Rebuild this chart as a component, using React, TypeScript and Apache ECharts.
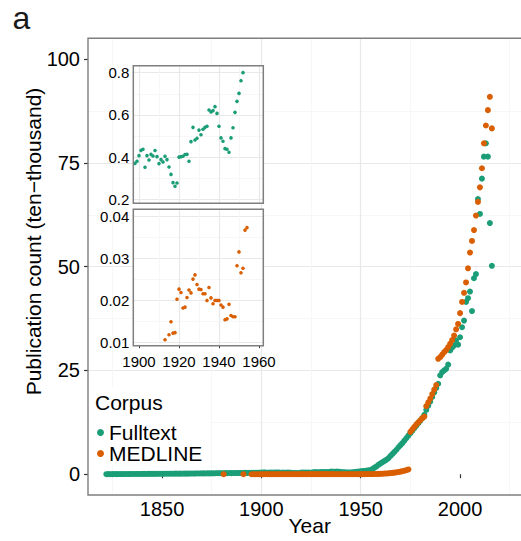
import React, { useEffect, useRef } from "react";
import * as echarts from "echarts";

// ---------- data ----------
const corpusNames = ["Fulltext", "MEDLINE"];
const corpusColors = ["#1b9e77", "#d95f02"];

const FULLTEXT_START = 1822;
// publication count (ten-thousand), one value per year 1822..2016
const fulltextValues = [
  // 1822-1829
  0.02, 0.03, 0.02, 0.03, 0.04, 0.03, 0.04, 0.05,
  // 1830-1839
  0.04, 0.05, 0.06, 0.05, 0.06, 0.07, 0.06, 0.07, 0.08, 0.07,
  // 1840-1849
  0.08, 0.09, 0.08, 0.09, 0.1, 0.09, 0.11, 0.1, 0.11, 0.12,
  // 1850-1859
  0.11, 0.12, 0.13, 0.12, 0.13, 0.14, 0.13, 0.15, 0.14, 0.15,
  // 1860-1869
  0.14, 0.16, 0.15, 0.17, 0.16, 0.18, 0.17, 0.19, 0.18, 0.2,
  // 1870-1879
  0.19, 0.21, 0.2, 0.22, 0.21, 0.23, 0.22, 0.24, 0.25, 0.24,
  // 1880-1889
  0.26, 0.25, 0.27, 0.26, 0.28, 0.27, 0.29, 0.3, 0.29, 0.31,
  // 1890-1899
  0.3, 0.32, 0.33, 0.32, 0.34, 0.35, 0.34, 0.36, 0.37, 0.38,
  // 1900-1909
  0.407, 0.432, 0.437, 0.352, 0.407, 0.386, 0.413, 0.405, 0.431, 0.402,
  // 1910-1919
  0.369, 0.388, 0.377, 0.404, 0.388, 0.353, 0.318, 0.279, 0.262, 0.277,
  // 1920-1929
  0.4, 0.402, 0.404, 0.412, 0.413, 0.38, 0.473, 0.541, 0.481, 0.489,
  // 1930-1939
  0.528, 0.506, 0.532, 0.541, 0.546, 0.623, 0.614, 0.62, 0.639, 0.607,
  // 1940-1949
  0.546, 0.491, 0.475, 0.44, 0.437, 0.423, 0.491, 0.539, 0.612, 0.664,
  // 1950-1959
  0.702, 0.762, 0.8, 0.87, 0.95, 1.0, 1.3, 1.6, 1.9, 2.3,
  // 1960-1969
  2.6, 2.9, 3.2, 3.5, 3.9, 4.4, 4.9, 5.4, 5.9, 6.5,
  // 1970-1979
  7.0, 7.5, 8.1, 8.7, 9.3, 9.9, 10.5, 11.1, 11.7, 12.3,
  // 1980-1989
  12.9, 13.5, 14.3, 15.5, 16.5, 17.5, 18.6, 19.7, 20.8, 21.8,
  // 1990-1999
  23.8, 24.6, 25.0, 25.4, 26.4, 29.8, 30.5, 31.0, 32.2, 31.2,
  // 2000-2009
  33.0, 35.4, 37.0, 41.5, 42.4, 44.0, 39.3, 47.2, 48.2, 66.3,
  // 2010-2016
  62.7, 71.2, 76.5, 79.7, 76.5, 60.5, 50.2,
];

const medlineEarlyYears = [1881, 1891];
const medlineEarlyValues = [0.006, 0.007];
const MEDLINE_START = 1895;
// one value per year 1895..2016
const medlineValues = [
  // 1895-1899
  0.003, 0.004, 0.003, 0.004, 0.005,
  // 1900-1909
  0.004, 0.005, 0.006, 0.005, 0.006, 0.006, 0.007, 0.006, 0.007, 0.008,
  // 1910-1919
  0.007, 0.008, 0.009, 0.0106, 0.0085, 0.0118, 0.0149, 0.0122, 0.0123, 0.0203,
  // 1920-1929
  0.0227, 0.0219, 0.0182, 0.0184, 0.0207, 0.0225, 0.0218, 0.0251, 0.0261, 0.0238,
  // 1930-1939
  0.0227, 0.0226, 0.0216, 0.0216, 0.02, 0.0231, 0.0206, 0.0192, 0.02, 0.02,
  // 1940-1949
  0.02, 0.0189, 0.0184, 0.0154, 0.0156, 0.0191, 0.0164, 0.0161, 0.0161, 0.0283,
  // 1950-1959
  0.0316, 0.0266, 0.0277, 0.0368, 0.0374, 0.045, 0.05, 0.06, 0.07, 0.09,
  // 1960-1969
  0.11, 0.13, 0.16, 0.19, 0.23, 0.28, 0.33, 0.39, 0.46, 0.54,
  // 1970-1979
  0.63, 0.73, 0.85, 0.98, 1.15, 10.2, 10.8, 11.4, 12.0, 12.5,
  // 1980-1989
  13.0, 13.5, 13.9, 16.4, 17.3, 18.2, 19.3, 20.4, 21.5, 27.8,
  // 1990-1999
  28.2, 28.8, 29.4, 29.9, 30.6, 31.4, 32.3, 33.4, 34.9, 36.2,
  // 2000-2009
  38.8, 41.5, 43.7, 46.2, 49.6, 53.4, 56.2, 58.8, 62.3, 65.6,
  // 2010-2016
  69.1, 73.7, 79.7, 84.0, 87.7, 90.9, 83.3,
];

const mainXTicks = [1850, 1900, 1950, 2000];
const mainYTicks = [0, 25, 50, 75, 100];
const insetXTicks = [1900, 1920, 1940, 1960];
const inset1YTicks = [0.2, 0.4, 0.6, 0.8];
const inset2YTicks = [0.01, 0.02, 0.03, 0.04];

// ---------- layout ----------
const FONT = "'Liberation Sans', Arial, Helvetica, sans-serif";
const MAIN = { left: 88, top: 38.3, right: 531.4, bottom: 495 };
const MAIN_X = [1812.75, 2035.9];
const MAIN_Y = [-5, 105];
const IN1 = { left: 133.3, top: 65.7, right: 263.3, bottom: 203.3 };
const IN2 = { left: 133.3, top: 209.3, right: 263.3, bottom: 345.7 };
const IN_X = [1897.15, 1962.15];
const IN1_Y = [0.181, 0.833];
const IN2_Y = [0.00919, 0.04177];

const W = 521;
const H = 541;

function gridOf(b: any, z: number, bg: boolean) {
  return {
    left: b.left,
    top: b.top,
    width: b.right - b.left,
    height: b.bottom - b.top,
    show: bg,
    backgroundColor: bg ? "#ffffff" : "transparent",
    borderWidth: 0,
    containLabel: false,
    outerBoundsMode: "none",
    z,
  };
}

function App() {
  const ref = useRef<HTMLDivElement>(null);

  useEffect(() => {
    if (!ref.current) return;
    const chart = echarts.init(ref.current, undefined, { renderer: "svg" });

    const fulltextData = fulltextValues.map((v, i) => [FULLTEXT_START + i, v]);
    const medlineData = [
      ...medlineEarlyYears.map((y, i) => [y, medlineEarlyValues[i]]),
      ...medlineValues.map((v, i) => [MEDLINE_START + i, v]),
    ];
    const within = (d: number[][], xr: number[], yr: number[]) =>
      d.filter(([x, y]) => x >= xr[0] && x <= xr[1] && y >= yr[0] && y <= yr[1]);

    const majorLine = { show: true, showMinLine: false, showMaxLine: false, lineStyle: { color: "#e8e8e8", width: 1.2 } };
    const minorLine = { show: true, lineStyle: { color: "#f5f5f5", width: 0.8 } };
    const fmt = (v: number) => String(v);

    const option: any = {
      animation: false,
      backgroundColor: "#ffffff",
      textStyle: { fontFamily: FONT },
      grid: [gridOf(MAIN, 0, false), gridOf(IN1, 3, true), gridOf(IN2, 3, true)],
      xAxis: [
        {
          type: "value",
          gridIndex: 0,
          min: MAIN_X[0],
          max: MAIN_X[1],
          minInterval: 50,
          maxInterval: 50,
          splitNumber: 4,
          axisLine: { show: false },
          axisTick: { show: true, length: 4, customValues: mainXTicks, lineStyle: { color: "#333", width: 1.2 } },
          axisLabel: { customValues: mainXTicks, formatter: fmt, fontSize: 20, color: "#000", margin: 4, fontFamily: FONT },
          splitLine: majorLine,
          minorTick: { show: false, splitNumber: 2 },
          minorSplitLine: minorLine,
          name: "Year",
          nameLocation: "middle",
          nameGap: 20,
          nameMoveOverlap: false,
          nameTextStyle: { fontSize: 21, color: "#000", fontFamily: FONT },
        },
        {
          type: "value",
          gridIndex: 1,
          min: IN_X[0],
          max: IN_X[1],
          minInterval: 20,
          maxInterval: 20,
          axisLine: { show: false },
          axisTick: { show: false },
          axisLabel: { show: false },
          splitLine: majorLine,
          minorTick: { show: false, splitNumber: 2 },
          minorSplitLine: minorLine,
          z: 4,
        },
        {
          type: "value",
          gridIndex: 2,
          min: IN_X[0],
          max: IN_X[1],
          minInterval: 20,
          maxInterval: 20,
          axisLine: { show: false },
          axisTick: { show: true, length: 2.5, customValues: insetXTicks, lineStyle: { color: "#333", width: 1 } },
          axisLabel: { customValues: insetXTicks, formatter: fmt, fontSize: 15, color: "#000", margin: 8, fontFamily: FONT },
          splitLine: majorLine,
          minorTick: { show: false, splitNumber: 2 },
          minorSplitLine: minorLine,
          z: 4,
        },
      ],
      yAxis: [
        {
          type: "value",
          gridIndex: 0,
          min: MAIN_Y[0],
          max: MAIN_Y[1],
          minInterval: 25,
          maxInterval: 25,
          axisLine: { show: false },
          axisTick: { show: true, length: 4, customValues: mainYTicks, lineStyle: { color: "#333", width: 1.2 } },
          axisLabel: { customValues: mainYTicks, formatter: fmt, fontSize: 20, color: "#000", margin: 8, fontFamily: FONT },
          splitLine: majorLine,
          minorTick: { show: false, splitNumber: 2 },
          minorSplitLine: minorLine,
        },
        {
          type: "value",
          gridIndex: 1,
          min: IN1_Y[0],
          max: IN1_Y[1],
          minInterval: 0.2,
          maxInterval: 0.2,
          axisLine: { show: false },
          axisTick: { show: false },
          axisLabel: { customValues: inset1YTicks, formatter: (v: number) => v.toFixed(1), fontSize: 15, color: "#000", margin: 4, fontFamily: FONT },
          splitLine: majorLine,
          minorTick: { show: false, splitNumber: 2 },
          minorSplitLine: minorLine,
          z: 4,
        },
        {
          type: "value",
          gridIndex: 2,
          min: IN2_Y[0],
          max: IN2_Y[1],
          minInterval: 0.01,
          maxInterval: 0.01,
          axisLine: { show: false },
          axisTick: { show: false },
          axisLabel: { customValues: inset2YTicks, formatter: (v: number) => v.toFixed(2), fontSize: 15, color: "#000", margin: 4, fontFamily: FONT },
          splitLine: majorLine,
          minorTick: { show: false, splitNumber: 2 },
          minorSplitLine: minorLine,
          z: 4,
        },
      ],
      legend: {
        data: corpusNames,
        orient: "vertical",
        left: 97,
        top: 422,
        itemWidth: 7,
        itemHeight: 7,
        itemGap: 0,
        icon: "circle",
        padding: 0,
        selectedMode: false,
        textStyle: { fontSize: 21, color: "#000", fontFamily: FONT, lineHeight: 21 },
        z: 10,
      },
      series: [
        {
          name: corpusNames[0],
          type: "scatter",
          xAxisIndex: 0,
          yAxisIndex: 0,
          data: fulltextData,
          symbolSize: 6,
          itemStyle: { color: corpusColors[0], opacity: 1 },
          silent: true,
          z: 2,
        },
        {
          name: corpusNames[1],
          type: "scatter",
          xAxisIndex: 0,
          yAxisIndex: 0,
          data: medlineData,
          symbolSize: 6,
          itemStyle: { color: corpusColors[1], opacity: 1 },
          silent: true,
          z: 2,
        },
        {
          name: corpusNames[0],
          type: "scatter",
          xAxisIndex: 1,
          yAxisIndex: 1,
          data: within(fulltextData, IN_X, IN1_Y),
          symbolSize: 3.6,
          itemStyle: { color: corpusColors[0], opacity: 1 },
          silent: true,
          z: 5,
        },
        {
          name: corpusNames[1],
          type: "scatter",
          xAxisIndex: 2,
          yAxisIndex: 2,
          data: within(medlineData, IN_X, IN2_Y),
          symbolSize: 3.6,
          itemStyle: { color: corpusColors[1], opacity: 1 },
          silent: true,
          z: 5,
        },
      ],
      graphic: [
        {
          type: "rect",
          z: 6,
          silent: true,
          shape: { x: 89.5, y: 388, width: 121, height: 77 },
          style: { fill: "#ffffff" },
        },
        {
          type: "text",
          z: 7,
          silent: true,
          x: 95,
          y: 402.7,
          style: { text: "Corpus", fontSize: 21, fontFamily: FONT, fill: "#000", align: "left", verticalAlign: "middle" },
        },
        {
          type: "text",
          z: 7,
          silent: true,
          x: 33,
          y: 241.5,
          rotation: Math.PI / 2,
          style: {
            text: "Publication count (ten\u2212thousand)",
            fontSize: 21,
            fontFamily: FONT,
            fill: "#000",
            align: "center",
            verticalAlign: "middle",
          },
        },
        {
          type: "text",
          z: 7,
          silent: true,
          x: 12.5,
          y: 18,
          style: { text: "a", fontSize: 32, fontFamily: FONT, fill: "#1a1a1a", align: "left", verticalAlign: "middle" },
        },
        {
          type: "rect",
          z: 8,
          silent: true,
          shape: { x: MAIN.left, y: MAIN.top, width: MAIN.right - MAIN.left, height: MAIN.bottom - MAIN.top },
          style: { fill: "none", stroke: "#7f7f7f", lineWidth: 1.4 },
        },
        {
          type: "rect",
          z: 8,
          silent: true,
          shape: { x: IN1.left, y: IN1.top, width: IN1.right - IN1.left, height: IN1.bottom - IN1.top },
          style: { fill: "none", stroke: "#7f7f7f", lineWidth: 1.5 },
        },
        {
          type: "rect",
          z: 8,
          silent: true,
          shape: { x: IN2.left, y: IN2.top, width: IN2.right - IN2.left, height: IN2.bottom - IN2.top },
          style: { fill: "none", stroke: "#7f7f7f", lineWidth: 1.5 },
        },
      ],
    };

    chart.setOption(option);
    return () => chart.dispose();
  }, []);

  return (
    <div
      ref={ref}
      style={{ position: "absolute", left: 0, top: 0, width: W, height: H, background: "#fff" }}
    />
  );
}

export default App;
